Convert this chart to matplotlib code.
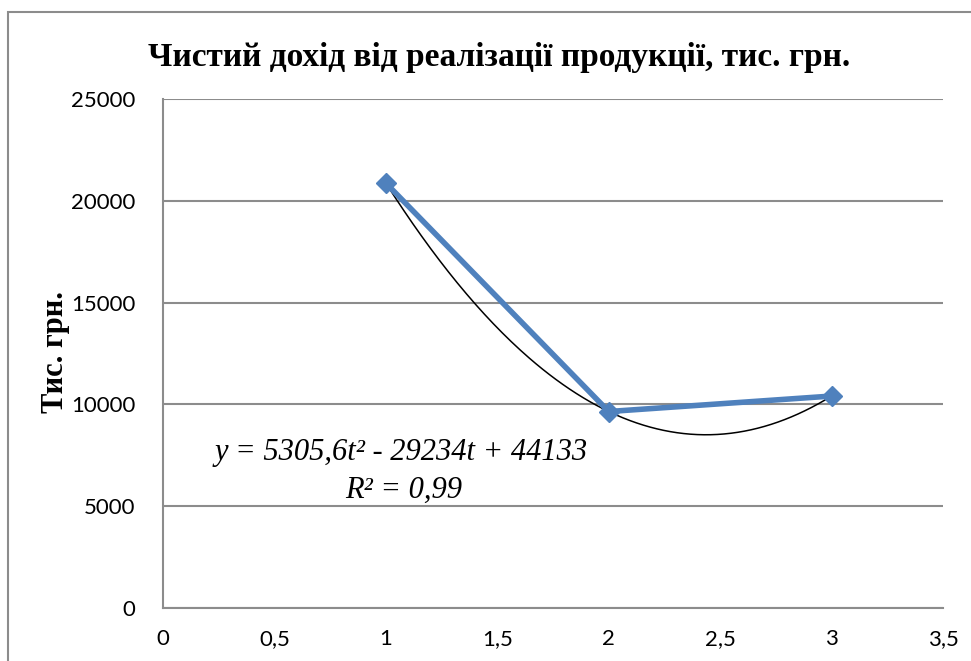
import matplotlib
matplotlib.use("Agg")
import matplotlib.pyplot as plt
from matplotlib.patches import Rectangle
import numpy as np

# дані
periods = [1, 2, 3]
income = [20870, 9650, 10410]
title = "Чистий дохід від реалізації продукції, тис. грн."
y_label = "Тис. грн."
trend_eq = "y = 5305,6t² - 29234t + 44133"
trend_r2 = "R² = 0,99"
x_ticks = [0, 0.5, 1, 1.5, 2, 2.5, 3, 3.5]
x_tick_labels = ["0", "0,5", "1", "1,5", "2", "2,5", "3", "3,5"]
y_ticks = [0, 5000, 10000, 15000, 20000, 25000]

grid_col = "#8c8c8c"
blue = "#4f81bd"

fig = plt.figure(figsize=(9.71, 6.61), dpi=100)
fig.add_artist(Rectangle((8 / 971, -0.1), 1.2, 1 - 12 / 661 + 0.1,
                         transform=fig.transFigure, fill=False,
                         edgecolor="#8c8c8c", linewidth=1.5))
ax = fig.add_axes([163 / 971, 53 / 661, 780 / 971, 509 / 661])

# тренд (поліном 2-го ступеня)
coef = np.polyfit(periods, income, 2)
t = np.linspace(periods[0], periods[-1], 200)
ax.plot(t, np.polyval(coef, t), color="black", linewidth=1.1, zorder=3)

ax.plot(periods, income, color=blue, linewidth=4, marker="D", markersize=10,
        zorder=4)

ax.set_xlim(0, 3.5)
ax.set_ylim(0, 25000)
ax.set_xticks(x_ticks)
ax.set_xticklabels(x_tick_labels)
ax.set_yticks(y_ticks)
ax.yaxis.grid(True, color=grid_col, linewidth=1.5)
ax.set_axisbelow(True)
for s in ["top", "right"]:
    ax.spines[s].set_visible(False)
for s in ["left", "bottom"]:
    ax.spines[s].set_color(grid_col)
    ax.spines[s].set_linewidth(1.5)
ax.tick_params(length=0, labelsize=16, pad=20)
ax.tick_params(axis="x", pad=15)
for lab in ax.get_xticklabels() + ax.get_yticklabels():
    lab.set_family("Lato")

fig.text(0.514, 0.913, title, ha="center", va="center", fontsize=24,
         fontweight="bold", family="Liberation Serif")
fig.text(55 / 971, 1 - 352 / 661, y_label, ha="center", va="center",
         rotation=90, fontsize=22, fontweight="bold", family="Liberation Serif")

ax.text(0.233, 7660, trend_eq, ha="left", va="center", fontsize=22,
        style="italic", family="Liberation Serif")
ax.text(0.817, 5800, trend_r2, ha="left", va="center", fontsize=22,
        style="italic", family="Liberation Serif")

fig.savefig("out.png", dpi=100)
